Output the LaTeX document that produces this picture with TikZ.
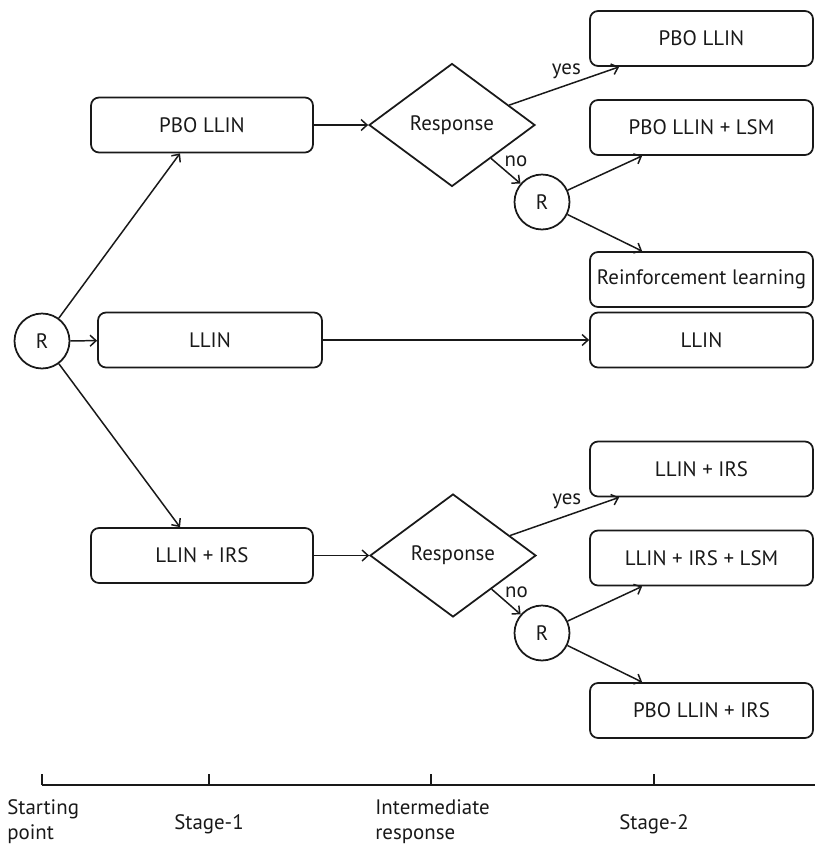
\documentclass[tikz,border=0pt]{standalone}
\usepackage{fontspec}
\setmainfont{PT Sans}
\usetikzlibrary{shapes.geometric,arrows.meta}

\tikzset{
    box/.style={draw, line width=1pt, rounded corners=1.6mm, minimum width=4.44cm, minimum height=1.1cm, inner sep=0pt},
    chance/.style={draw, line width=1pt, circle, minimum size=1.1cm, inner sep=0pt},
    decision/.style={draw, line width=1pt, diamond, minimum width=3.32cm, minimum height=2.46cm, inner sep=0pt},
    arr/.style={line width=0.85pt, -{Straight Barb[length=1.2mm, width=2.2mm]}},
    timelabel/.style={inner sep=0pt, align=left},
}

\begin{document}
\begin{tikzpicture}[x=0.02cm, y=-0.02cm, font=\fontsize{11.9}{14.2}\selectfont, color=black!90]
    \useasboundingbox (0,0) rectangle (815,846);

    % starting point
    \node[chance] (start) at (42,341) {R};

    % stage 1
    \node[box] (pbo) at (202,125) {PBO LLIN};
    \node[box, minimum width=4.48cm] (llin) at (210,340) {LLIN};
    \node[box] (irs) at (202,555.5) {LLIN + IRS};

    % intermediate response
    \node[decision] (resptop) at (452,125) {Response};
    \node[decision] (respbot) at (453,555.5) {Response};
    \node[chance] (rtop) at (542,202) {R};
    \node[chance] (rbot) at (542,633) {R};

    % stage 2
    \node[box, minimum width=4.46cm] (pbotwo) at (701.5,38.5) {PBO LLIN};
    \node[box, minimum width=4.46cm] (pbolsm) at (701.5,127.5) {PBO LLIN + LSM};
    \node[box, minimum width=4.46cm] (reinf) at (701.5,279.5) {Reinforcement learning};
    \node[box, minimum width=4.46cm] (llintwo) at (701.5,340) {LLIN};
    \node[box, minimum width=4.46cm] (irstwo) at (701.5,469) {LLIN + IRS};
    \node[box, minimum width=4.46cm] (irslsm) at (701.5,558) {LLIN + IRS + LSM};
    \node[box, minimum width=4.46cm] (pboirs) at (701.5,710.5) {PBO LLIN + IRS};

    \draw[arr] (start) -- ([xshift=-0.44cm]pbo.south);
    \draw[arr] (start) -- (llin);
    \draw[arr] (start) -- ([xshift=-0.44cm]irs.north);

    \draw[arr] (pbo) -- (resptop);
    \draw[arr] (resptop) -- node[pos=0.52, above=0pt] {yes} ([xshift=0.6cm]pbotwo.south west);
    \draw[arr] (resptop) -- node[pos=0.12, right=2pt] {no} (rtop);
    \draw[arr] (rtop) -- ([xshift=1.06cm]pbolsm.south west);
    \draw[arr] (rtop) -- ([xshift=1.06cm]reinf.north west);

    \draw[arr] (llin) -- (llintwo);

    \draw[arr] (irs) -- (respbot);
    \draw[arr] (respbot) -- node[pos=0.52, above=0pt] {yes} ([xshift=0.6cm]irstwo.south west);
    \draw[arr] (respbot) -- node[pos=0.12, right=2pt] {no} (rbot);
    \draw[arr] (rbot) -- ([xshift=1.06cm]irslsm.south west);
    \draw[arr] (rbot) -- ([xshift=1.06cm]pboirs.north west);

    % time line
    \coordinate (tstart) at (42,785);
    \coordinate (tone) at (209,785);
    \coordinate (tmid) at (431,785);
    \coordinate (ttwo) at (654,785);
    \coordinate (tend) at (815,785);
    \draw[line width=1pt] (tstart) -- (tend);
    \draw[line width=1pt] (tstart) -- ++(0,-11)
        (tone) -- ++(0,-11)
        (tmid) -- ++(0,-11)
        (ttwo) -- ++(0,-11);
    \node[timelabel, anchor=west] (lstart) at (7,822) {Starting\\point};
    \node[timelabel] (lone) at (209,824) {Stage-1};
    \node[timelabel, anchor=west] (lmid) at (375,822) {Intermediate\\response};
    \node[timelabel] (ltwo) at (654,824) {Stage-2};
\end{tikzpicture}
\end{document}
